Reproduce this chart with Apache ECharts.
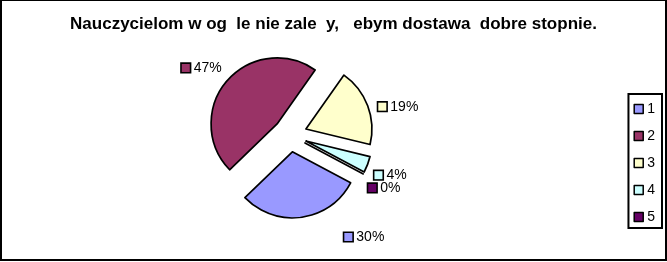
<!DOCTYPE html>
<html>
<head>
<meta charset="utf-8">
<script src="https://cdn.jsdelivr.net/npm/echarts@6/dist/echarts.min.js"></script>
<style>
html,body{margin:0;padding:0;background:#fff;}
#wrap{position:relative;width:667px;height:262px;}
#chart{position:absolute;left:0;top:0;width:667px;height:262px;}
#frame{position:absolute;left:0;top:0;width:663px;height:258px;border:2px solid #000;border-top-width:1px;pointer-events:none;}
</style>
</head>
<body>
<div id="wrap"><div id="chart"></div><div id="frame"></div></div>
<script>
const titleText = 'Nauczycielom w og  le nie zale  y,   ebym dostawa  dobre stopnie.';
const categories = ['1', '2', '3', '4', '5'];
const values = [30, 47, 19, 4, 0];
const percentLabels = ['30%', '47%', '19%', '4%', '0%'];
const colors = ['#9999FF', '#993366', '#FFFFCC', '#CCFFFF', '#660066'];
// per-slice label placement tweaks (style only)
const labelLen = [20, 20, 6, 2, 0];
const labelLen2 = [35, -15, 0, 0, 0];
const labelPadTop = [0, 0, 6, 20, 28];

const chart = echarts.init(document.getElementById('chart'), null, {renderer: 'canvas'});
const font = '"Liberation Sans", Arial, sans-serif';

const data = categories.map((c, i) => ({
  name: c,
  value: values[i],
  selected: true,
  itemStyle: {color: colors[i]},
  labelLine: {show: false, length: labelLen[i], length2: labelLen2[i]},
  label: {
    show: true,
    formatter: '{sq|}{t|' + percentLabels[i] + '}',
    padding: [labelPadTop[i], 0, 0, 0],
    rich: {
      sq: {width: 8, height: 8, backgroundColor: colors[i], borderColor: '#000', borderWidth: 1.6},
      t: {fontSize: 14, fontFamily: font, color: '#000', padding: [0, 0, 0, 4]}
    }
  }
}));

chart.setOption({
  animation: false,
  title: {
    text: titleText,
    left: 'center',
    top: 11,
    textStyle: {fontSize: 17, fontWeight: 'bold', fontFamily: font, color: '#000'}
  },
  legend: {
    orient: 'vertical',
    right: 5,
    top: 94,
    data: categories,
    icon: 'rect',
    itemWidth: 9,
    itemHeight: 9,
    itemGap: 13,
    padding: [8, 7, 4, 5],
    borderColor: '#000',
    borderWidth: 2,
    selectedMode: false,
    itemStyle: {borderColor: '#000', borderWidth: 1.5},
    textStyle: {fontSize: 14, lineHeight: 12, fontFamily: font, color: '#000', padding: [0, 0, 0, -1]}
  },
  series: [{
    type: 'pie',
    center: [290, 135],
    radius: [0, 66],
    startAngle: 332,
    clockwise: true,
    selectedMode: 'multiple',
    selectedOffset: 17,
    avoidLabelOverlap: false,
    minShowLabelAngle: -1,
    labelLayout: {hideOverlap: false},
    silent: true,
    itemStyle: {borderColor: '#000', borderWidth: 1.7},
    label: {show: true, position: 'outside'},
    emphasis: {disabled: true},
    data: data
  }]
});
</script>
</body>
</html>
